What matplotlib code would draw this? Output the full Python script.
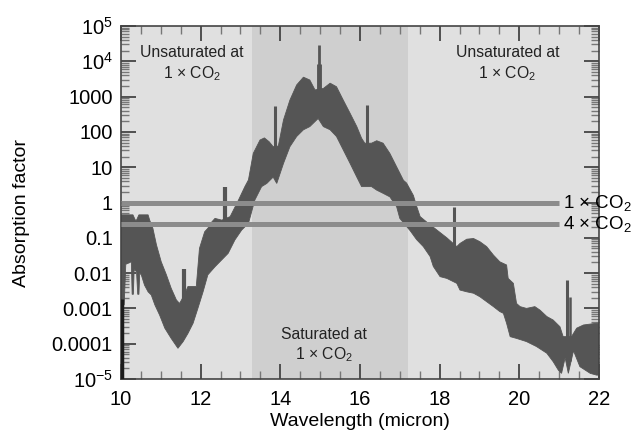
import numpy as np
import matplotlib
matplotlib.use("Agg")
import matplotlib.pyplot as plt
from matplotlib.ticker import FixedLocator, MultipleLocator, LogLocator, NullFormatter

plt.rcParams['font.family'] = ['Liberation Sans', 'DejaVu Sans']
plt.rcParams['mathtext.fontset'] = 'custom'
plt.rcParams['mathtext.rm'] = 'Liberation Sans'
plt.rcParams['mathtext.it'] = 'Liberation Sans:italic'

# upper edge of the absorption band (wavelength, log10 of absorption factor)
up_x = [10.0, 10.13, 10.30, 10.36, 10.39, 10.45, 10.68, 10.72, 10.80, 10.89, 11.01, 11.14,
        11.26, 11.39, 11.47, 11.60, 11.68, 11.89, 11.97, 12.10, 12.18, 12.28, 12.36, 12.53,
        12.74, 12.95, 13.11, 13.20, 13.32, 13.49, 13.60, 13.72, 13.82, 13.95, 14.08, 14.24,
        14.41, 14.58, 14.74, 14.87, 15.08, 15.25, 15.41, 15.58, 15.75, 15.92, 16.04, 16.12,
        16.29, 16.42, 16.58, 16.75, 16.92, 17.09, 17.17, 17.34, 17.42, 17.51, 17.67, 17.84,
        18.01, 18.18, 18.28, 18.43, 18.51, 18.68, 18.85, 19.01, 19.18, 19.35, 19.51, 19.68,
        19.72, 19.85, 19.93, 20.02, 20.18, 20.39, 20.52, 20.69, 20.85, 21.02, 21.10, 21.31,
        21.44, 21.61, 21.94, 22.0]
up_log = [-0.35, -0.35, -0.35, -0.50, -0.50, -0.35, -0.35, -0.50, -0.73, -1.20, -1.68, -2.05,
          -2.43, -2.76, -2.86, -2.60, -2.38, -2.38, -1.30, -0.83, -0.73, -0.55, -0.45, -0.50,
          -0.40, 0.07, 0.45, 0.64, 1.39, 1.77, 1.83, 1.72, 1.58, 1.60, 2.34, 2.90,
          3.33, 3.55, 3.47, 3.19, 3.23, 3.38, 3.28, 2.90, 2.53, 2.15, 1.82, 1.68,
          1.68, 1.75, 1.68, 1.39, 1.01, 0.63, 0.55, 0.20, -0.10, -0.40, -0.55, -0.70,
          -0.85, -1.00, -1.10, -1.25, -1.16, -1.04, -1.02, -1.11, -1.25, -1.49, -1.68, -1.77,
          -2.15, -2.29, -2.86, -2.95, -3.00, -2.95, -3.05, -3.23, -3.33, -3.52, -3.80, -3.80,
          -3.56, -3.47, -3.42, -3.42]

# lower edge of the band
lo_x = [10.0, 10.08, 10.12, 10.26, 10.28, 10.31, 10.33, 10.39, 10.42, 10.45, 10.47, 10.51,
        10.59, 10.68, 10.76, 10.85, 10.97, 11.10, 11.26, 11.43, 11.56, 11.68, 11.81, 11.93,
        12.06, 12.18, 12.36, 12.69, 12.86, 13.03, 13.20, 13.36, 13.53, 13.66, 13.82, 13.91,
        14.08, 14.24, 14.41, 14.58, 14.74, 14.95, 15.08, 15.25, 15.41, 15.58, 15.75, 15.92,
        16.04, 16.29, 16.42, 16.58, 16.75, 16.92, 17.00, 17.26, 17.42, 17.59, 17.76, 17.84,
        18.01, 18.18, 18.43, 18.51, 18.68, 18.85, 19.01, 19.18, 19.35, 19.51, 19.60, 19.68,
        19.77, 19.93, 20.18, 20.43, 20.69, 20.85, 20.98, 21.06, 21.15, 21.23, 21.36, 21.52,
        21.78, 21.94, 22.0]
lo_log = [-2.90, -2.90, -1.75, -1.68, -2.60, -2.60, -1.90, -1.96, -2.60, -2.60, -2.00, -2.05,
          -2.34, -2.53, -2.62, -2.90, -3.19, -3.56, -3.85, -4.13, -3.94, -3.71, -3.42, -3.00,
          -2.53, -2.05, -1.82, -1.44, -1.06, -0.78, -0.59, 0.07, 0.45, 0.54, 0.72, 0.54,
          1.11, 1.58, 1.87, 2.06, 2.15, 2.38, 2.15, 2.06, 1.87, 1.49, 1.11, 0.72,
          0.45, 0.45, 0.35, 0.26, 0.16, -0.12, -0.45, -0.80, -1.05, -1.25, -1.53, -1.81,
          -2.10, -2.15, -2.29, -2.48, -2.53, -2.57, -2.67, -2.81, -2.95, -3.09, -3.14, -3.42,
          -3.80, -3.85, -3.94, -4.08, -4.27, -4.51, -4.75, -4.84, -4.40, -4.84, -4.20, -4.65,
          -4.84, -4.89, -4.89]

# narrow Q-branch spikes
spike_x = [11.57, 12.62, 13.87, 14.97, 14.97, 16.17, 18.36, 21.19, 21.28]
spike_top = [-1.87, 0.45, 2.73, 3.93, 4.46, 2.76, -0.13, -2.20, -2.67]
spike_bot = [-3.50, -1.00, 1.20, 2.80, 2.80, 0.60, -2.00, -4.50, -4.50]

co2_levels = [1.0, 0.25]
co2_labels = ['1 × CO$_2$', '4 × CO$_2$']
sat_band = (13.28, 17.2)

ytick_vals = [1e5, 1e4, 1e3, 1e2, 1e1, 1, 0.1, 0.01, 0.001, 0.0001, 1e-5]
ytick_txt = [r'$10^5$', r'$10^4$', '1000', '100', '10', '1', '0.1', '0.01', '0.001',
             '0.0001', r'$10^{-5}$']

fig = plt.figure(figsize=(6.36, 4.34), dpi=100)
ax = fig.add_axes([121 / 636, 1 - 379 / 434, 478 / 636, 353 / 434])
ax.set_facecolor('#e0e0e0')
ax.set_yscale('log')
ax.set_xlim(10, 22)
ax.set_ylim(1e-5, 1e5)

ax.axvspan(sat_band[0], sat_band[1], color='#cfcfcf', lw=0, zorder=0)

band_col = '#555555'
px = list(up_x) + list(lo_x[::-1])
py = list(10 ** np.array(up_log)) + list(10 ** np.array(lo_log[::-1]))
ax.fill(px, py, color=band_col, lw=0.6, ec=band_col, zorder=2)

widths = [3.0, 3.0, 2.2, 3.5, 2.0, 2.2, 2.2, 2.2, 1.8]
for sx, sb, st, w in zip(spike_x, spike_bot, spike_top, widths):
    ax.vlines(sx, 10 ** sb, 10 ** st, color=band_col, lw=w, zorder=2)

ax.vlines(10.02, 1e-5, 10 ** -2.72, color='#1c1c1c', lw=2.5, zorder=3)

for lev, lab in zip(co2_levels, co2_labels):
    ax.plot([10, 21], [lev, lev], color='#8c8c8c', lw=3.6, solid_capstyle='butt', zorder=4)
    ax.text(21.1, lev, lab, fontsize=13.5, va='center', ha='left', clip_on=False)

tkw = dict(fontsize=11.3, ha='center', va='center', color='#222222')
ax.text(11.78, 10 ** 4.26, 'Unsaturated at', **tkw)
ax.text(11.78, 10 ** 3.64, '1 × CO$_2$', **tkw)
ax.text(19.7, 10 ** 4.26, 'Unsaturated at', **tkw)
ax.text(19.7, 10 ** 3.64, '1 × CO$_2$', **tkw)
ax.text(15.09, 10 ** -3.75, 'Saturated at', **tkw)
ax.text(15.09, 10 ** -4.32, '1 × CO$_2$', **tkw)

ax.xaxis.set_major_locator(MultipleLocator(2))
ax.xaxis.set_minor_locator(MultipleLocator(0.5))
ax.yaxis.set_major_locator(FixedLocator(ytick_vals))
ax.set_yticklabels(ytick_txt)
ax.yaxis.set_minor_locator(LogLocator(base=10, subs=np.arange(2, 10), numticks=30))
ax.yaxis.set_minor_formatter(NullFormatter())

ax.tick_params(which='both', direction='in', top=True, right=True, color='#444444')
ax.tick_params(which='major', length=11, width=1.3, labelsize=14.5, pad=6)
ax.tick_params(axis='x', which='major', pad=8)
ax.tick_params(which='minor', length=6, width=1.0, color='#777777')
for s in ax.spines.values():
    s.set_color('#444444')
    s.set_linewidth(1.2)

ax.set_xlabel('Wavelength (micron)', fontsize=14, labelpad=3)
ax.set_ylabel('Absorption factor', fontsize=14)
ax.yaxis.set_label_coords(-0.19, 0.47)

fig.savefig('out.png', dpi=100)
